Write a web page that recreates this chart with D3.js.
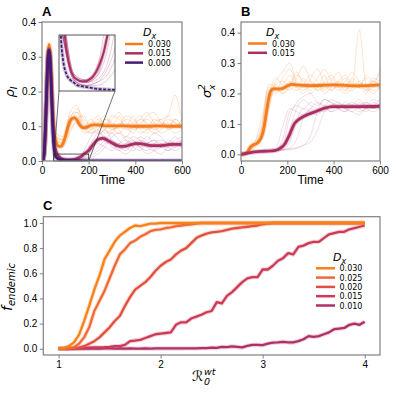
<!DOCTYPE html>
<html>
<head>
<meta charset="utf-8">
<script src="https://cdn.jsdelivr.net/npm/d3@7"></script>
<style>
body { margin: 0; background: #fff; }
.axis line { stroke: #808080; }
.axis text { fill: #000; }
.leg { font-family: "DejaVu Sans", sans-serif; font-size: 8px; fill: #000; }
.math { font-family: "DejaVu Sans", sans-serif; font-style: italic; fill: #000; }
</style>
</head>
<body>
<script>
// ---- panel A : rho_I over time ----
const tOrangeA = [0,5,10,15,20,25,30,35,40,45,50,55,60,70,80,90,100,110,120,130,140,150,160,170,180,190,200,220,240,260,280,300,350,400,450,500,550,600];
const meanOrangeA = [0,0.005,0.03,0.1,0.2,0.3,0.335,0.31,0.24,0.16,0.1,0.07,0.055,0.043,0.042,0.05,0.07,0.095,0.115,0.123,0.124,0.118,0.105,0.098,0.096,0.097,0.1,0.104,0.104,0.102,0.101,0.101,0.101,0.1,0.1,0.101,0.1,0.1];
const tMagA = [0,5,10,15,20,25,30,35,40,45,50,55,60,70,80,90,100,110,120,130,140,150,160,170,180,200,220,240,260,280,300,320,340,360,380,400,420,440,460,480,500,520,540,560,580,600];
const meanMagA = [0,0.005,0.03,0.1,0.2,0.29,0.32,0.295,0.22,0.13,0.065,0.04,0.028,0.015,0.008,0.005,0.004,0.0035,0.0035,0.004,0.005,0.007,0.01,0.014,0.02,0.03,0.048,0.062,0.065,0.06,0.052,0.045,0.042,0.043,0.047,0.05,0.05,0.048,0.045,0.044,0.044,0.045,0.047,0.048,0.048,0.048];
const tPurA = [0,5,10,15,20,25,30,35,40,45,50,55,60,70,80,90,100,120,150,200,300,600];
const meanPurA = [0,0.005,0.03,0.1,0.2,0.29,0.32,0.29,0.21,0.12,0.05,0.02,0.012,0.006,0.004,0.003,0.002,0.0015,0.0008,0.0004,0.0001,0];

// single runs, sampled every 30 time units from t = 60
const tThinA = [60,90,120,150,180,210,240,270,300,330,360,390,420,450,480,510,540,570,600];
const runsOrangeA = [
  [0.07,0.06,0.12,0.13,0.09,0.10,0.12,0.09,0.08,0.11,0.10,0.13,0.09,0.08,0.11,0.12,0.09,0.10,0.11],
  [0.06,0.05,0.10,0.14,0.11,0.08,0.09,0.12,0.11,0.09,0.07,0.10,0.12,0.11,0.09,0.10,0.13,0.11,0.09],
  [0.08,0.07,0.14,0.16,0.10,0.11,0.13,0.10,0.12,0.14,0.11,0.09,0.10,0.13,0.14,0.11,0.10,0.12,0.10],
  [0.05,0.04,0.08,0.12,0.13,0.09,0.10,0.08,0.09,0.10,0.12,0.11,0.08,0.09,0.10,0.12,0.13,0.19,0.11],
  [0.07,0.06,0.11,0.12,0.08,0.09,0.11,0.13,0.10,0.08,0.10,0.11,0.13,0.10,0.08,0.09,0.11,0.10,0.12],
  [0.06,0.05,0.12,0.15,0.12,0.10,0.08,0.09,0.13,0.12,0.10,0.08,0.11,0.12,0.10,0.08,0.09,0.12,0.10],
  [0.08,0.06,0.09,0.11,0.10,0.12,0.10,0.11,0.09,0.10,0.13,0.12,0.10,0.09,0.12,0.11,0.10,0.08,0.09],
  [0.07,0.05,0.13,0.14,0.09,0.08,0.10,0.12,0.10,0.13,0.09,0.10,0.12,0.14,0.11,0.10,0.12,0.11,0.10]
];
const runsMagA = [
  [0.02,0.005,0.003,0.005,0.02,0.05,0.08,0.07,0.05,0.04,0.05,0.06,0.04,0.03,0.05,0.06,0.05,0.04,0.05],
  [0.02,0.004,0.002,0.003,0.008,0.02,0.04,0.06,0.08,0.06,0.04,0.03,0.05,0.07,0.05,0.04,0.03,0.05,0.06],
  [0.03,0.006,0.004,0.008,0.03,0.07,0.09,0.06,0.04,0.03,0.05,0.07,0.06,0.04,0.03,0.04,0.06,0.05,0.04],
  [0.02,0.004,0.002,0.002,0.004,0.01,0.02,0.04,0.07,0.08,0.06,0.04,0.03,0.05,0.06,0.04,0.05,0.07,0.05],
  [0.02,0.005,0.003,0.004,0.01,0.03,0.06,0.07,0.05,0.03,0.02,0.04,0.06,0.05,0.03,0.02,0.04,0.05,0.04],
  [0.03,0.006,0.004,0.006,0.02,0.04,0.07,0.09,0.06,0.05,0.06,0.05,0.07,0.06,0.08,0.07,0.05,0.06,0.07],
  [0.02,0.004,0.002,0.003,0.006,0.015,0.03,0.05,0.06,0.04,0.03,0.05,0.04,0.02,0.03,0.05,0.04,0.03,0.04],
  [0.02,0.005,0.003,0.005,0.015,0.04,0.05,0.04,0.03,0.05,0.07,0.06,0.04,0.05,0.06,0.05,0.03,0.04,0.06]
];

// ---- panel B : sigma_x^2 over time ----
const tOrangeB = [0,20,30,40,50,60,70,80,90,100,110,120,130,140,160,180,200,220,240,300,400,500,600];
const meanOrangeB = [0,0.002,0.01,0.024,0.03,0.033,0.037,0.045,0.06,0.09,0.14,0.185,0.21,0.215,0.215,0.217,0.225,0.23,0.228,0.226,0.228,0.225,0.228];
const tMagB = [0,30,60,100,150,170,190,210,230,250,280,320,360,400,500,600];
const meanMagB = [0,0.004,0.008,0.01,0.013,0.02,0.035,0.065,0.1,0.115,0.128,0.14,0.152,0.157,0.157,0.158];

const tThinB = [0,30,60,90,120,150,180,210,240,270,300,330,360,390,420,450,480,510,540,570,600];
const runsOrangeB = [
  [0,0.01,0.03,0.08,0.20,0.23,0.21,0.24,0.22,0.25,0.21,0.23,0.20,0.22,0.24,0.21,0.23,0.22,0.20,0.24,0.23],
  [0,0.01,0.04,0.12,0.22,0.21,0.25,0.28,0.23,0.21,0.24,0.22,0.26,0.21,0.23,0.25,0.22,0.24,0.21,0.22,0.25],
  [0,0.01,0.03,0.05,0.15,0.22,0.20,0.22,0.26,0.24,0.20,0.22,0.23,0.25,0.22,0.20,0.22,0.41,0.23,0.21,0.22],
  [0,0.01,0.03,0.07,0.18,0.24,0.27,0.30,0.24,0.22,0.25,0.28,0.23,0.21,0.24,0.26,0.23,0.22,0.25,0.23,0.28],
  [0,0.01,0.03,0.09,0.21,0.20,0.22,0.21,0.25,0.29,0.24,0.21,0.22,0.24,0.27,0.22,0.21,0.23,0.22,0.24,0.21],
  [0,0.01,0.02,0.06,0.16,0.23,0.24,0.22,0.21,0.23,0.26,0.24,0.21,0.23,0.22,0.24,0.27,0.24,0.22,0.20,0.22],
  [0,0.01,0.04,0.10,0.23,0.22,0.20,0.23,0.27,0.23,0.22,0.25,0.28,0.24,0.21,0.23,0.24,0.22,0.26,0.24,0.27],
  [0,0.01,0.03,0.07,0.19,0.25,0.23,0.26,0.22,0.20,0.23,0.21,0.24,0.26,0.23,0.21,0.25,0.23,0.21,0.25,0.24]
];
const runsMagB = [
  [0,0.005,0.008,0.01,0.012,0.015,0.05,0.14,0.16,0.15,0.17,0.16,0.18,0.17,0.15,0.16,0.17,0.16,0.15,0.17,0.16],
  [0,0.005,0.008,0.01,0.012,0.013,0.02,0.08,0.15,0.18,0.16,0.15,0.14,0.16,0.17,0.15,0.16,0.18,0.16,0.15,0.17],
  [0,0.005,0.007,0.01,0.011,0.012,0.015,0.02,0.05,0.12,0.15,0.14,0.15,0.16,0.15,0.14,0.16,0.15,0.17,0.16,0.15],
  [0,0.005,0.008,0.01,0.012,0.02,0.09,0.15,0.14,0.13,0.15,0.17,0.16,0.14,0.15,0.17,0.16,0.14,0.15,0.16,0.18],
  [0,0.005,0.008,0.01,0.011,0.012,0.013,0.015,0.02,0.03,0.06,0.14,0.18,0.17,0.16,0.15,0.14,0.16,0.17,0.15,0.16],
  [0,0.005,0.008,0.01,0.012,0.014,0.03,0.12,0.17,0.19,0.20,0.17,0.16,0.18,0.17,0.16,0.15,0.17,0.16,0.18,0.17],
  [0,0.005,0.008,0.01,0.012,0.013,0.016,0.04,0.11,0.15,0.14,0.13,0.15,0.14,0.16,0.15,0.14,0.13,0.15,0.14,0.15],
  [0,0.005,0.008,0.01,0.012,0.013,0.015,0.018,0.022,0.03,0.04,0.08,0.14,0.16,0.15,0.14,0.16,0.15,0.14,0.16,0.15]
];

// ---- panel C : fraction endemic vs R0 ----
const r0Grid = [1.00,1.05,1.10,1.15,1.20,1.25,1.30,1.35,1.40,1.45,1.50,1.55,1.60,1.65,1.70,1.75,1.80,1.85,1.90,1.95,
  2.00,2.05,2.10,2.15,2.20,2.25,2.30,2.35,2.40,2.45,2.50,2.55,2.60,2.65,2.70,2.75,2.80,2.85,2.90,2.95,
  3.00,3.05,3.10,3.15,3.20,3.25,3.30,3.35,3.40,3.45,3.50,3.55,3.60,3.65,3.70,3.75,3.80,3.85,3.90,3.95,4.00];
const fEnd030 = [0,0.005,0.02,0.05,0.11,0.22,0.34,0.47,0.58,0.71,0.78,0.85,0.9,0.93,0.96,0.98,0.975,0.985,0.995,0.995,
  1,1,1,1,1,1,1,1,1,1,1,1,1,1,1,1,1,1,1,1,
  1,1,1,1,1,1,1,1,1,1,1,1,1,1,1,1,1,1,1,1,1];
const fEnd025 = [0,0,0.005,0.01,0.04,0.09,0.17,0.3,0.38,0.46,0.56,0.66,0.75,0.79,0.84,0.86,0.89,0.91,0.935,0.945,
  0.95,0.96,0.965,0.975,0.98,0.985,0.99,0.995,1,1,1,1,1,1,1,1,1,1,1,1,
  1,1,1,1,1,1,1,1,1,1,1,1,1,1,1,1,1,1,1,1,1];
const fEnd020 = [0,0,0,0.003,0.008,0.02,0.04,0.06,0.09,0.13,0.17,0.22,0.26,0.34,0.41,0.47,0.5,0.53,0.57,0.62,
  0.66,0.69,0.71,0.75,0.78,0.8,0.84,0.88,0.9,0.915,0.925,0.93,0.935,0.945,0.955,0.96,0.965,0.97,0.975,0.98,
  0.99,0.995,1,1,1,1,1,1,1,1,1,1,1,1,1,1,1,1,1,1,1];
const fEnd015 = [0,0,0,0.002,0.003,0.005,0.008,0.01,0.01,0.012,0.015,0.02,0.02,0.03,0.06,0.065,0.07,0.085,0.1,0.115,
  0.12,0.125,0.13,0.19,0.21,0.21,0.24,0.255,0.27,0.29,0.3,0.37,0.36,0.42,0.45,0.49,0.53,0.56,0.57,0.57,
  0.63,0.63,0.66,0.7,0.72,0.76,0.75,0.81,0.82,0.84,0.85,0.85,0.88,0.91,0.92,0.93,0.93,0.95,0.96,0.97,0.98];
const fEnd010 = [0,0,0,0,0,0,0,0,0,0.002,0.002,0.001,0.002,0.001,0.002,0.001,0.001,0.002,0.001,0.002,
  0.002,0.002,0.002,0.003,0.002,0.003,0.003,0.003,0.005,0.005,0.008,0.006,0.015,0.013,0.018,0.015,0.01,0.022,0.03,0.03,
  0.028,0.04,0.048,0.05,0.055,0.05,0.05,0.06,0.075,0.1,0.095,0.1,0.115,0.13,0.155,0.16,0.165,0.19,0.2,0.19,0.215];

const dxLabelsAB = ['0.030', '0.015', '0.000'];
const dxLabelsC = ['0.030', '0.025', '0.020', '0.015', '0.010'];

// colours
const cOrange = '#f47c1c', cMag = '#a82f64', cPur = '#441a72';
const colorsC = ['#f7811b', '#f06a35', '#e0503f', '#cc3a58', '#b03066'];

const svg = d3.select('body').append('svg').attr('width', 396).attr('height', 395);

const boxA = { l: 42, r: 182, t: 22, b: 161 };
const boxB = { l: 241, r: 380, t: 22, b: 161 };
const boxC = { l: 43.3, r: 380, t: 216.7, b: 355 };

function makePanel(box, xDom, yDom, id) {
	const x = d3.scaleLinear().domain(xDom).range([box.l, box.r]);
	const y = d3.scaleLinear().domain(yDom).range([box.b, box.t]);
	svg.append('clipPath').attr('id', id).append('rect')
		.attr('x', box.l).attr('y', box.t).attr('width', box.r - box.l).attr('height', box.b - box.t);
	const plot = svg.append('g').attr('clip-path', `url(#${id})`);
	return { x, y, plot, box };
}

function drawAxes(p, xTicks, yTicks, xFmt, yFmt) {
	svg.append('g').attr('class', 'axis')
		.attr('transform', `translate(0,${p.box.b})`)
		.attr('font-size', 13).attr('font-family', 'Liberation Sans, Arial, sans-serif')
		.call(d3.axisBottom(p.x).tickValues(xTicks).tickSize(3.5).tickPadding(2.5).tickFormat(xFmt))
		.call((g) => g.select('.domain').remove());
	svg.append('g').attr('class', 'axis')
		.attr('transform', `translate(${p.box.l},0)`)
		.attr('font-size', 13).attr('font-family', 'Liberation Sans, Arial, sans-serif')
		.call(d3.axisLeft(p.y).tickValues(yTicks).tickSize(3.5).tickPadding(2.5).tickFormat(yFmt))
		.call((g) => g.select('.domain').remove());
	svg.append('rect')
		.attr('x', p.box.l).attr('y', p.box.t)
		.attr('width', p.box.r - p.box.l).attr('height', p.box.b - p.box.t)
		.attr('fill', 'none').attr('stroke', '#808080').attr('stroke-width', 1.2);
}

function lineGen(p) {
	return d3.line().x((d) => p.x(d[0])).y((d) => p.y(d[1])).curve(d3.curveMonotoneX);
}

//thick mean line with a soft halo underneath
function meanLine(g, p, ts, vs, color, w, dash) {
	const pts = d3.zip(ts, vs);
	g.append('path').attr('d', lineGen(p)(pts)).attr('fill', 'none')
		.attr('stroke', color).attr('stroke-opacity', 0.25).attr('stroke-width', w + 2.2)
		.attr('stroke-linejoin', 'round');
	g.append('path').attr('d', lineGen(p)(pts)).attr('fill', 'none')
		.attr('stroke', color).attr('stroke-width', w)
		.attr('stroke-dasharray', dash || null)
		.attr('stroke-linejoin', 'round');
}

function runLines(g, p, ts, runs, color, op) {
	runs.forEach((r) => {
		g.append('path').attr('d', lineGen(p)(d3.zip(ts, r))).attr('fill', 'none')
			.attr('stroke', color).attr('stroke-opacity', op).attr('stroke-width', 0.8);
	});
}

function legend(labels, colors, x0, x1, tx, y0, dy, titleX, titleY, fs) {
	const t = svg.append('text').attr('class', 'math').attr('x', titleX).attr('y', titleY).attr('font-size', 11);
	t.append('tspan').text('D');
	t.append('tspan').attr('font-size', 8).attr('dy', 2.5).text('x');
	labels.forEach((lab, i) => {
		const yy = y0 + i * dy;
		svg.append('line').attr('x1', x0).attr('x2', x1).attr('y1', yy).attr('y2', yy)
			.attr('stroke', colors[i]).attr('stroke-width', 2.5);
		svg.append('text').attr('class', 'leg').attr('font-size', fs).attr('x', tx).attr('y', yy + 3).text(lab);
	});
}

function panelLetter(txt, x, y) {
	svg.append('text').attr('x', x).attr('y', y).text(txt)
		.attr('font-family', 'Liberation Sans, Arial, sans-serif').attr('font-weight', 'bold').attr('font-size', 13);
}

function xLabel(txt, x, y) {
	svg.append('text').attr('x', x).attr('y', y).attr('text-anchor', 'middle').text(txt)
		.attr('font-family', 'Liberation Sans, Arial, sans-serif').attr('font-size', 12);
}

const fmt1 = d3.format('.1f');

// ================= A =================
const pA = makePanel(boxA, [0, 600], [0, 0.4], 'clipA');
runLines(pA.plot, pA, tThinA, runsOrangeA, cOrange, 0.28);
runLines(pA.plot, pA, tThinA, runsMagA, cMag, 0.22);
meanLine(pA.plot, pA, tOrangeA, meanOrangeA, cOrange, 2.8);
meanLine(pA.plot, pA, tMagA, meanMagA, cMag, 2.8);
meanLine(pA.plot, pA, tPurA, meanPurA, cPur, 2.8);

// zoom rectangle + inset
const zoomX = [50, 200], zoomY = [0, 0.02];
const insetBox = { l: 59, r: 115, t: 35, b: 91 };
svg.append('rect')
	.attr('x', pA.x(zoomX[0])).attr('y', pA.y(zoomY[1]))
	.attr('width', pA.x(zoomX[1]) - pA.x(zoomX[0])).attr('height', pA.y(zoomY[0]) - pA.y(zoomY[1]))
	.attr('fill', 'none').attr('stroke', '#333').attr('stroke-width', 0.8);
svg.append('line').attr('x1', insetBox.l).attr('y1', insetBox.b).attr('x2', pA.x(zoomX[0])).attr('y2', pA.y(zoomY[0]))
	.attr('stroke', '#333').attr('stroke-width', 0.7);
svg.append('line').attr('x1', insetBox.r).attr('y1', insetBox.b).attr('x2', pA.x(zoomX[1])).attr('y2', pA.y(zoomY[0]))
	.attr('stroke', '#333').attr('stroke-width', 0.7);
svg.append('rect').attr('x', insetBox.l).attr('y', insetBox.t)
	.attr('width', insetBox.r - insetBox.l).attr('height', insetBox.b - insetBox.t).attr('fill', '#fff');
const pIn = makePanel(insetBox, zoomX, zoomY, 'clipIn');
runLines(pIn.plot, pIn, tThinA, runsMagA, cMag, 0.3);
meanLine(pIn.plot, pIn, tMagA, meanMagA, cMag, 2);
meanLine(pIn.plot, pIn, tPurA, meanPurA, cPur, 1.8, '3,1.5');
svg.append('rect').attr('x', insetBox.l).attr('y', insetBox.t)
	.attr('width', insetBox.r - insetBox.l).attr('height', insetBox.b - insetBox.t)
	.attr('fill', 'none').attr('stroke', '#555').attr('stroke-width', 1);

drawAxes(pA, [0, 200, 400, 600], [0, 0.1, 0.2, 0.3, 0.4], d3.format('d'), fmt1);
legend(dxLabelsAB, [cOrange, cMag, cPur], 125, 143, 148, 44, 9.3, 143, 36, 8);
panelLetter('A', 42, 16);
xLabel('Time', 112, 184);
{
	const t = svg.append('text').attr('class', 'math').attr('font-size', 13)
		.attr('transform', 'translate(14,92) rotate(-90)').attr('text-anchor', 'middle');
	t.append('tspan').text('ρ');
	t.append('tspan').attr('font-size', 9).attr('dy', 3).text('I');
}

// ================= B =================
const pB = makePanel(boxB, [0, 600], [-0.022, 0.435], 'clipB');
runLines(pB.plot, pB, tThinB, runsOrangeB, cOrange, 0.25);
runLines(pB.plot, pB, tThinB, runsMagB, cMag, 0.2);
meanLine(pB.plot, pB, tOrangeB, meanOrangeB, cOrange, 2.8);
meanLine(pB.plot, pB, tMagB, meanMagB, cMag, 2.8);
drawAxes(pB, [0, 200, 400, 600], [0, 0.1, 0.2, 0.3, 0.4], d3.format('d'), fmt1);
legend(dxLabelsAB.slice(0, 2), [cOrange, cMag], 248, 267, 272, 43.5, 9.3, 266, 36, 8);
panelLetter('B', 241, 16);
xLabel('Time', 310.5, 184);
{
	const g = svg.append('g').attr('transform', 'translate(211,92) rotate(-90)');
	g.append('text').attr('class', 'math').attr('font-size', 13).attr('x', -6).attr('y', 0).text('σ');
	g.append('text').attr('class', 'math').attr('font-size', 9).attr('x', 2).attr('y', 4).text('x');
	g.append('text').attr('class', 'math').attr('font-size', 9).attr('x', 2).attr('y', -6).attr('font-style', 'normal').text('2');
}

// ================= C =================
const pC = makePanel(boxC, [0.85, 4.15], [-0.05, 1.05], 'clipC');
const seriesC = [fEnd030, fEnd025, fEnd020, fEnd015, fEnd010];
seriesC.slice().reverse().forEach((s, i) => {
	const idx = seriesC.length - 1 - i;
	const pts = d3.zip(r0Grid, s);
	const ln = d3.line().x((d) => pC.x(d[0])).y((d) => pC.y(d[1]));
	pC.plot.append('path').attr('d', ln(pts)).attr('fill', 'none')
		.attr('stroke', colorsC[idx]).attr('stroke-opacity', 0.22).attr('stroke-width', 4.4).attr('stroke-linejoin', 'round');
	pC.plot.append('path').attr('d', ln(pts)).attr('fill', 'none')
		.attr('stroke', colorsC[idx]).attr('stroke-width', 2.3).attr('stroke-linejoin', 'round');
});
drawAxes(pC, [1, 2, 3, 4], [0, 0.2, 0.4, 0.6, 0.8, 1.0], d3.format('d'), fmt1);
legend(dxLabelsC, colorsC, 316, 335, 339.5, 268.3, 9.3, 333, 261, 8.5);
panelLetter('C', 43, 210);
{
	const t = svg.append('text').attr('class', 'math').attr('font-size', 14)
		.attr('transform', 'translate(12,287) rotate(-90)').attr('text-anchor', 'middle');
	t.append('tspan').text('f');
	t.append('tspan').attr('font-size', 10).attr('dy', 3).text('endemic');
}
{
	const g = svg.append('g').attr('transform', 'translate(192,381)');
	g.append('text').attr('class', 'math').attr('font-size', 14).attr('x', 0).attr('y', 0).attr('font-style', 'normal').text('ℛ');
	g.append('text').attr('class', 'math').attr('font-size', 9.5).attr('x', 12).attr('y', 4).attr('font-style', 'normal').text('0');
	g.append('text').attr('class', 'math').attr('font-size', 9.5).attr('x', 12).attr('y', -6).text('wt');
}
</script>
</body>
</html>
